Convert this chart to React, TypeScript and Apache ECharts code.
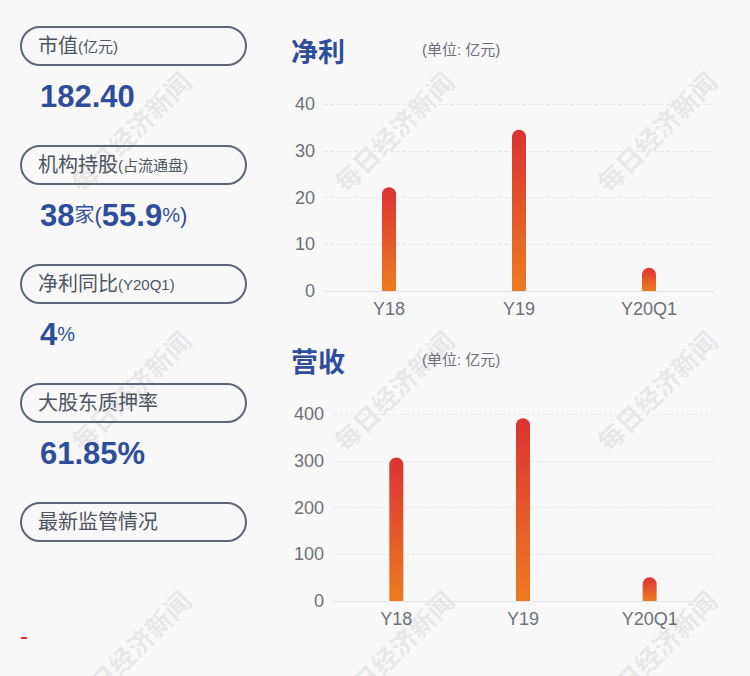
import React, { useEffect, useRef } from "react";
import * as echarts from "echarts";

const categories = ["Y18", "Y19", "Y20Q1"];
const profitValues = [22.2, 34.5, 5.0];
const revenueValues = [307, 391, 51];
const profitTicks = { min: 0, max: 40, interval: 10 };
const revenueTicks = { min: 0, max: 400, interval: 100 };

const pillLabels = [
  { main: "市值", sub: "(亿元)" },
  { main: "机构持股", sub: "(占流通盘)" },
  { main: "净利同比", sub: "(Y20Q1)" },
  { main: "大股东质押率", sub: "" },
  { main: "最新监管情况", sub: "" },
];
const statValues = [
  "{n|182.40}",
  "{n|38}{s|家}{p|(}{n|55.9}{s|%}{p|)}",
  "{n|4}{s|%}",
  "{n|61.85%}",
  "",
];

const BLUE = "#2e4e9c";
const GRAY = "#6e7079";
const LATIN = '"Liberation Sans", Arial, "Noto Sans CJK SC", sans-serif';
const CJK = '"Liberation Sans", "Noto Sans CJK SC", sans-serif';

export default function App() {
  const ref = useRef<HTMLDivElement>(null);
  useEffect(() => {
    document.body.style.margin = "0";
    const chart = echarts.init(ref.current!, null, { renderer: "svg" });
    const barGradient = new echarts.graphic.LinearGradient(0, 0, 0, 1, [
      { offset: 0, color: "#db3333" },
      { offset: 1, color: "#ec7b1f" },
    ]);

    const graphics: any[] = [];
    // watermarks
    [130, 393, 656].forEach((x) =>
      [131, 390, 650].forEach((y) =>
        graphics.push({
          type: "text",
          x,
          y,
          rotation: Math.PI / 4,
          z: 0,
          style: {
            text: "每日经济新闻",
            font: 'bold 26px "Noto Sans CJK SC"',
            fill: "rgba(0,0,0,0.085)",
            align: "center",
            verticalAlign: "middle",
          },
        })
      )
    );
    pillLabels.forEach((p, i) => {
      const top = 27 + i * 119;
      graphics.push({
        type: "rect",
        z: 5,
        shape: { x: 21, y: top, width: 225, height: 38, r: 19 },
        style: { fill: "none", stroke: "#5b6678", lineWidth: 2 },
      });
      graphics.push({
        type: "text",
        z: 5,
        x: 38,
        y: top + 19,
        style: {
          text: "{a|" + p.main + "}" + (p.sub ? "{b|" + p.sub + "}" : ""),
          verticalAlign: "middle",
          rich: {
            a: { fontSize: 20, fontFamily: CJK, fill: "#4e5561", color: "#4e5561" } as any,
            b: { fontSize: 15, fontFamily: CJK, fill: "#4e5561", color: "#4e5561" } as any,
          },
        },
      });
      if (statValues[i]) {
        graphics.push({
          type: "text",
          z: 5,
          x: 40,
          y: top + 69,
          style: {
            text: statValues[i],
            verticalAlign: "middle",
            rich: {
              n: { fontSize: 31, fontWeight: "bold", fontFamily: LATIN, fill: BLUE, color: BLUE } as any,
              s: { fontSize: 20, fontFamily: CJK, fill: BLUE, color: BLUE } as any,
              p: { fontSize: 22, fontFamily: CJK, fill: BLUE, color: BLUE } as any,
            },
          },
        });
      }
    });
    graphics.push({
      type: "rect",
      z: 5,
      shape: { x: 21, y: 637, width: 6, height: 2 },
      style: { fill: "#e03232" },
    });
    [
      { t: "净利", y: 50 },
      { t: "营收", y: 360 },
    ].forEach((h) => {
      graphics.push({
        type: "text",
        z: 5,
        x: 291,
        y: h.y,
        style: {
          text: h.t,
          font: 'bold 27px "Noto Sans CJK SC"',
          fill: BLUE,
          verticalAlign: "middle",
        },
      });
      graphics.push({
        type: "text",
        z: 5,
        x: 422,
        y: h.y - 1,
        style: {
          text: "(单位: 亿元)",
          font: '15px "Liberation Sans", "Noto Sans CJK SC"',
          fill: GRAY,
          verticalAlign: "middle",
        },
      });
    });

    const yAxisCommon = {
      type: "value",
      axisLine: { show: false },
      axisTick: { show: false },
      axisLabel: { color: GRAY, fontSize: 18, fontFamily: LATIN, margin: 9 },
      splitLine: { lineStyle: { color: "#e8e8e8", type: "dashed" } },
    };
    const xAxisCommon = {
      type: "category",
      data: categories,
      axisLine: { lineStyle: { color: "#e3e3e3" } },
      axisTick: { show: false },
      axisLabel: { color: GRAY, fontSize: 18, fontFamily: LATIN, margin: 9 },
    };
    const barCommon = {
      type: "bar",
      barWidth: 14,
      itemStyle: { color: barGradient, borderRadius: [7, 7, 0, 0] },
    };

    chart.setOption({
      animation: false,
      backgroundColor: "#f8f8f8",
      grid: [
        { left: 324, right: 36, top: 104, bottom: 385 },
        { left: 333, right: 37, top: 414, bottom: 75 },
      ],
      xAxis: [
        { ...xAxisCommon, gridIndex: 0 },
        { ...xAxisCommon, gridIndex: 1 },
      ],
      yAxis: [
        { ...yAxisCommon, gridIndex: 0, ...profitTicks },
        { ...yAxisCommon, gridIndex: 1, ...revenueTicks },
      ],
      series: [
        { ...barCommon, xAxisIndex: 0, yAxisIndex: 0, data: profitValues },
        { ...barCommon, xAxisIndex: 1, yAxisIndex: 1, data: revenueValues },
      ],
      graphic: graphics,
    });
    return () => chart.dispose();
  }, []);
  return <div ref={ref} style={{ width: 750, height: 676 }} />;
}
